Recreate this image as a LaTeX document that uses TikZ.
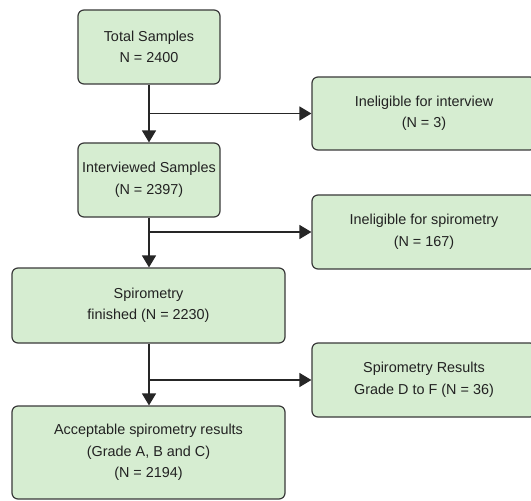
\documentclass[tikz,border=0pt]{standalone}
\usepackage{fontspec}
\setmainfont{Liberation Sans}
\usetikzlibrary{arrows.meta}
\definecolor{boxfill}{HTML}{D6EDD1}
\definecolor{boxline}{HTML}{3A3A3A}
\definecolor{txt}{HTML}{222222}
\tikzset{
  flowbox/.style={draw=boxline, fill=boxfill, line width=1.2bp, rounded corners=6bp,
    inner sep=0pt, align=center, text=txt,
    font=\fontsize{14.4bp}{21.5bp}\selectfont},
  conn/.style={draw=black!85, line width=1.3bp},
  arr/.style={conn, -{Triangle[length=12bp,width=14bp]}}
}
\begin{document}
\begin{tikzpicture}[x=1bp,y=-1bp]
\clip (0,0) rectangle (531,501);
\fill[white] (0,0) rectangle (531,501);
\node[flowbox, minimum width=142bp, minimum height=74bp] (A) at (149,47) {Total Samples\\N = 2400};
\node[flowbox, minimum width=142bp, minimum height=74bp] (B) at (149,180) {Interviewed Samples\\(N = 2397)};
\node[flowbox, minimum width=273bp, minimum height=75bp] (C) at (148.5,305.5) {Spirometry\\finished (N = 2230)};
\node[flowbox, minimum width=273bp, minimum height=93bp] (D) at (148.5,452.5) {Acceptable spirometry results\\(Grade A, B and C)\\(N = 2194)};
\node[flowbox, minimum width=224bp, minimum height=73bp] (R1) at (424,113.5) {Ineligible for interview\\(N = 3)};
\node[flowbox, minimum width=224bp, minimum height=74bp] (R2) at (424,232) {Ineligible for spirometry\\(N = 167)};
\node[flowbox, minimum width=224bp, minimum height=74bp] (R3) at (424,380) {Spirometry Results\\Grade D to F (N = 36)};
\coordinate (j1) at (149,113.5);
\coordinate (j2) at (149,232);
\coordinate (j3) at (149,380);
\draw[arr] (A.south) -- (B.north);
\draw[arr] (B.south) -- (B.south |- C.north);
\draw[arr] (B.south |- C.south) -- (B.south |- D.north);
\draw[arr] (j1) -- (j1 -| R1.west);
\draw[arr] (j2) -- (j2 -| R2.west);
\draw[arr] (j3) -- (j3 -| R3.west);
\end{tikzpicture}
\end{document}
